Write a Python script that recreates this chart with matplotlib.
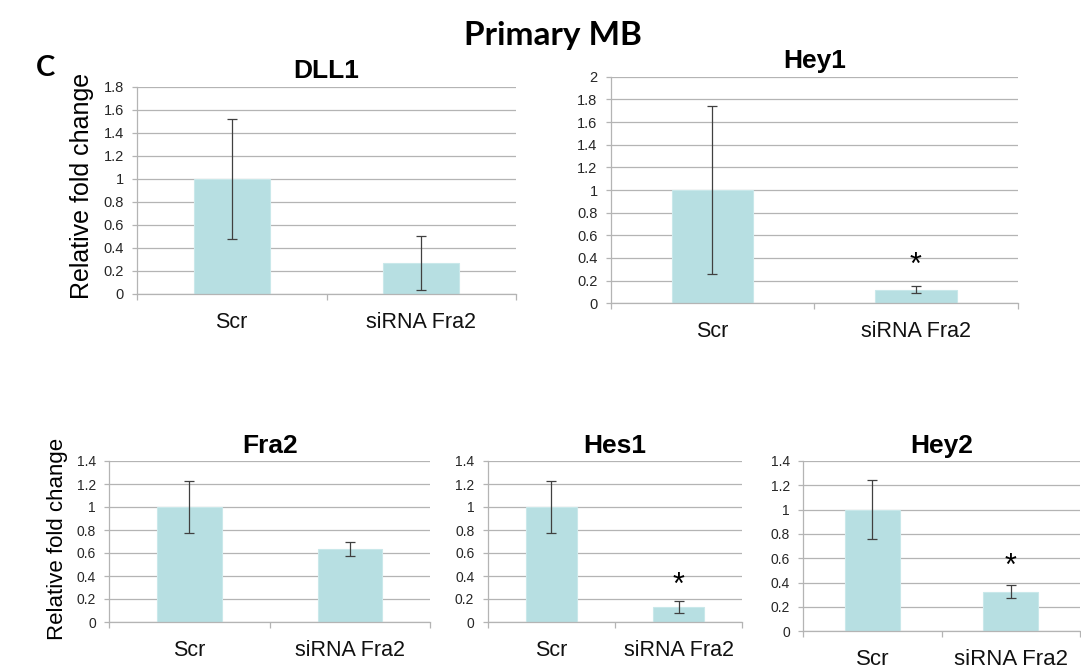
import numpy as np
import matplotlib
matplotlib.use("Agg")
import matplotlib.pyplot as plt
from matplotlib.ticker import FixedLocator

plt.rcParams["font.family"] = ["Liberation Sans", "DejaVu Sans"]

groups = ["Scr", "siRNA Fra2"]

dll1_mean = [1.0, 0.27]
dll1_err = [0.52, 0.235]
hey1_mean = [1.0, 0.12]
hey1_err = [0.74, 0.03]
fra2_mean = [1.0, 0.635]
fra2_err = [0.23, 0.06]
hes1_mean = [1.0, 0.13]
hes1_err = [0.23, 0.055]
hey2_mean = [1.0, 0.325]
hey2_err = [0.245, 0.052]

# star height (data units) over the siRNA bar, None = no star
star_y = {"DLL1": None, "Hey1": 0.33, "Fra2": None, "Hes1": 0.31, "Hey2": 0.53}
y_max = {"DLL1": 1.8, "Hey1": 2.0, "Fra2": 1.4, "Hes1": 1.4, "Hey2": 1.4}

BAR = "#b7dfe2"
GRID = "#b4b4b4"
ERR = "#404040"

W, H = 1081, 669
fig = plt.figure(figsize=(W / 100, H / 100), dpi=100)


def px_axes(left, right, top, bottom):
    return fig.add_axes([left / W, 1 - bottom / H, (right - left) / W, (bottom - top) / H])


def panel(ax, name, mean, err, tick_fs, cat_fs):
    x = np.arange(len(groups))
    ax.bar(x, mean, width=0.4, color=BAR, edgecolor="#c9e8ea", linewidth=0.8, zorder=2)
    ax.errorbar(x, mean, yerr=err, fmt="none", ecolor=ERR, elinewidth=0.9,
                capsize=3.5, capthick=0.9, zorder=3)
    ymax = y_max[name]
    ax.set_xlim(-0.5, 1.5)
    ax.set_ylim(0, ymax)
    ticks = np.round(np.arange(0, ymax + 0.01, 0.2), 1)
    ax.set_yticks(ticks)
    ax.set_yticklabels([f"{t:g}" for t in ticks], fontsize=tick_fs, color="#262626")
    ax.yaxis.grid(True, color=GRID, linewidth=0.9, zorder=0)
    ax.set_axisbelow(True)
    ax.set_xticks(x)
    ax.set_xticklabels(groups, fontsize=cat_fs, color="#111111")
    ax.xaxis.set_minor_locator(FixedLocator([-0.5, 0.5, 1.5]))
    ax.tick_params(axis="x", which="major", length=0, pad=13)
    ax.tick_params(axis="x", which="minor", length=4.5, color=GRID, width=0.9)
    ax.tick_params(axis="y", length=3.5, color=GRID, width=0.9, pad=6)
    for s in ["top", "right"]:
        ax.spines[s].set_visible(False)
    for s in ["left", "bottom"]:
        ax.spines[s].set_color(GRID)
        ax.spines[s].set_linewidth(0.9)
    ax.set_title(name, fontsize=19, fontweight="bold", pad=6)
    if star_y[name] is not None:
        ax.text(1, star_y[name], "*", ha="center", va="center", fontsize=22)


ax1 = px_axes(137, 516, 86.7, 294)
panel(ax1, "DLL1", dll1_mean, dll1_err, 10.5, 15.5)
ax2 = px_axes(610.7, 1017.7, 76.7, 303.3)
panel(ax2, "Hey1", hey1_mean, hey1_err, 10.5, 15.5)
ax3 = px_axes(109.3, 430, 461, 622)
panel(ax3, "Fra2", fra2_mean, fra2_err, 10, 15.5)
ax4 = px_axes(487.5, 742.3, 461, 622)
panel(ax4, "Hes1", hes1_mean, hes1_err, 10, 15.5)
ax5 = px_axes(803.3, 1080, 461, 631.3)
panel(ax5, "Hey2", hey2_mean, hey2_err, 10, 16)

fig.text(553 / W, 1 - 45 / H, "Primary MB", ha="center", va="baseline",
         fontsize=24, fontweight="bold", family=["Lato", "DejaVu Sans"])
fig.text(36 / W, 1 - 76 / H, "C", ha="left", va="baseline",
         fontsize=21, fontweight="bold", family=["Lato", "DejaVu Sans"])
fig.text(82 / W, 1 - 186 / H, "Relative fold change", rotation=90,
         ha="center", va="center", fontsize=18)
fig.text(58 / W, 1 - 539 / H, "Relative fold change", rotation=90,
         ha="center", va="center", fontsize=16)

fig.savefig("out.png", dpi=100)
